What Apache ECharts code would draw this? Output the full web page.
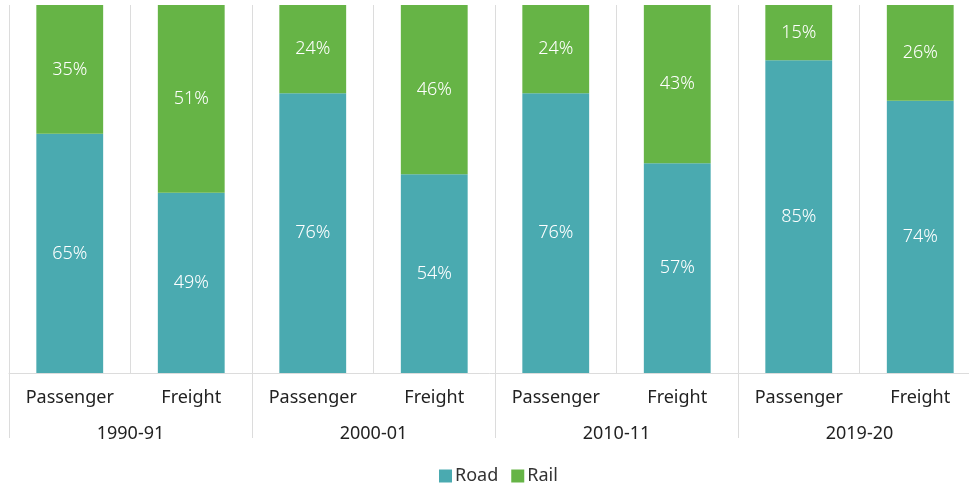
<!DOCTYPE html>
<html>
<head>
<meta charset="utf-8">
<script src="https://cdn.jsdelivr.net/npm/echarts@6/dist/echarts.min.js"></script>
<style>html,body{margin:0;padding:0;background:#fff}#c{width:969px;height:486px}</style>
</head>
<body>
<div id="c"></div>
<script>
// Mode share of land transport, by period
const modes = ['Passenger', 'Freight', 'Passenger', 'Freight', 'Passenger', 'Freight', 'Passenger', 'Freight'];
const periods = ['1990-91', '2000-01', '2010-11', '2019-20'];
const road = [65, 49, 76, 54, 76, 57, 85, 74];
const rail = [35, 51, 24, 46, 24, 43, 15, 26];

const font = 'Noto Sans';
const chart = echarts.init(document.getElementById('c'));
const segLabel = {
  show: true, position: 'inside', color: '#fff', fontFamily: font,
  fontSize: 18, fontWeight: 300, formatter: p => p.value + '%'
};
chart.setOption({
  animation: false,
  // the last category runs slightly past the right edge of the canvas
  grid: { left: 9, right: -12, top: 5, bottom: 113, containLabel: false, outerBoundsMode: 'none' },
  legend: {
    top: 462, left: 434, itemWidth: 13, itemHeight: 13, itemGap: 13,
    icon: 'rect',
    textStyle: { fontFamily: font, fontSize: 18, color: '#333', padding: [0, 0, 0, -2] },
    data: ['Road', 'Rail']
  },
  xAxis: [
    {
      type: 'category', data: modes, position: 'bottom',
      axisLine: { show: true, lineStyle: { color: '#dcdcdc', width: 1 } },
      axisTick: { show: false },
      splitLine: { show: true, lineStyle: { color: '#dcdcdc', width: 1 } },
      axisLabel: { margin: 16, fontFamily: font, fontSize: 18, color: '#222' }
    },
    {
      type: 'category', data: periods, position: 'bottom', offset: 0,
      axisLine: { show: false },
      axisTick: { show: true, length: 65, lineStyle: { color: '#dcdcdc', width: 1 } },
      splitLine: { show: false },
      axisLabel: { margin: 52, fontFamily: font, fontSize: 18, color: '#222' }
    }
  ],
  yAxis: { type: 'value', min: 0, max: 100, show: false, splitLine: { show: false } },
  series: [
    {
      name: 'Road', type: 'bar', stack: 'share', data: road, barWidth: '55%',
      itemStyle: { color: '#4AAAB0' }, label: segLabel
    },
    {
      name: 'Rail', type: 'bar', stack: 'share', data: rail, barWidth: '55%',
      itemStyle: { color: '#66B446' }, label: segLabel
    }
  ]
});
</script>
</body>
</html>
